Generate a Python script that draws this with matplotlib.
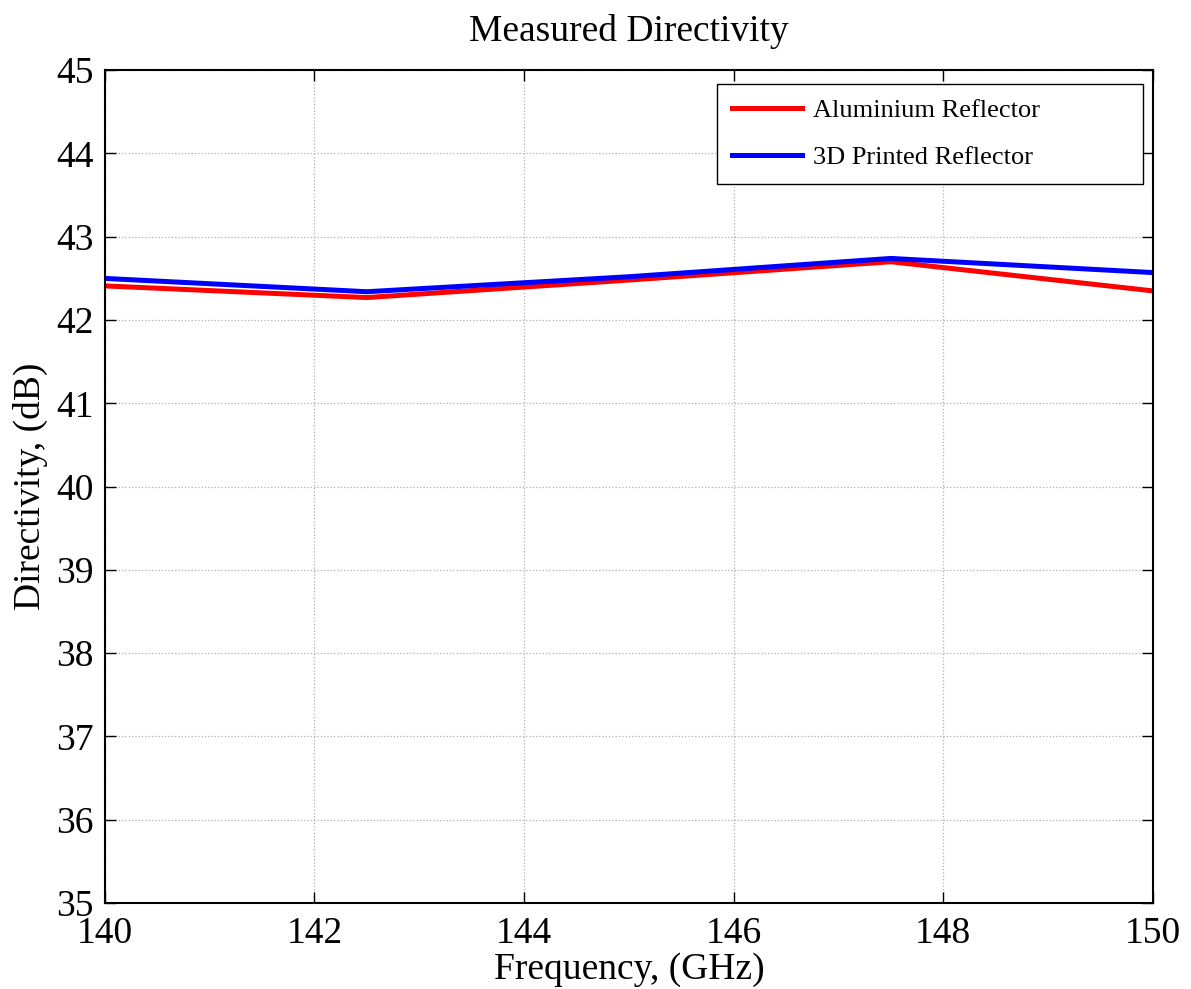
import numpy as np
import matplotlib as mpl
import matplotlib.pyplot as plt

mpl.rcParams['font.family'] = 'Liberation Serif'
mpl.rcParams['axes.linewidth'] = 1.5

# data
freq = [140, 142.5, 145, 147.5, 150]
aluminium = [42.41, 42.27, 42.48, 42.70, 42.35]
printed = [42.50, 42.34, 42.52, 42.74, 42.57]

fig = plt.figure(figsize=(11.91, 9.89), dpi=100)
ax = fig.add_axes([0.088, 0.087, 0.880, 0.842])

ax.plot(freq, aluminium, color='r', lw=3.6, label='Aluminium Reflector')
ax.plot(freq, printed, color='b', lw=3.6, label='3D Printed Reflector')

ax.set_xlim(140, 150)
ax.set_ylim(35, 45)
ax.set_xticks(np.arange(140, 151, 2))
ax.set_yticks(np.arange(35, 46, 1))
ax.tick_params(direction='in', labelsize=27, length=8, width=1, top=True, right=True)
ax.tick_params(axis='x', pad=10)
ax.tick_params(axis='y', pad=8)
ax.grid(True, linestyle=':', color='#b0b0b0', linewidth=0.9)

ax.set_title('Measured Directivity', fontsize=27, pad=21)
ax.set_xlabel('Frequency, (GHz)', fontsize=27, labelpad=1)
ax.set_ylabel('Directivity, (dB)', fontsize=27, labelpad=6)

leg = ax.legend(loc='upper left', bbox_to_anchor=(0.584, 0.984, 0.4065, 0.0), mode='expand',
                fontsize=19, fancybox=False, framealpha=1, edgecolor='k', borderpad=0.56,
                handlelength=2.65, handletextpad=0.45, labelspacing=0.9, borderaxespad=0)
leg.get_frame().set_linewidth(1.0)

fig.savefig('out.png', dpi=100)
